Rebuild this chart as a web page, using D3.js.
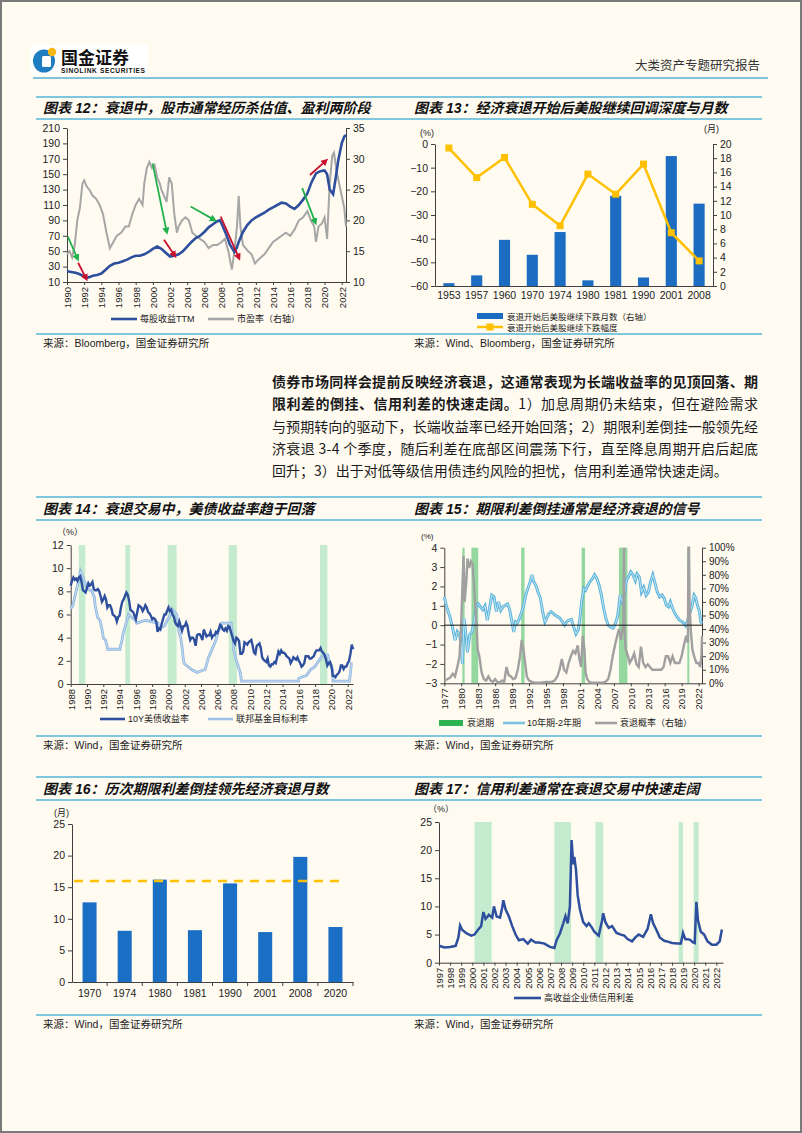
<!DOCTYPE html>
<html><head><meta charset="utf-8">
<script src="https://cdn.jsdelivr.net/npm/d3@7"></script>
<style>
html,body{margin:0;padding:0;background:#FFFBF1;}
svg{display:block;}
text{font-family:"Liberation Sans",Arial,"Noto Sans CJK SC",sans-serif;}
</style></head><body>
<svg id="page" width="802" height="1133"></svg>
<script>
// ---------------- DATA ----------------
// Chart 12
const eps12 = [[1990,24],[1990.5,23],[1991,22],[1991.5,20],[1992,17],[1992.25,15.5],[1992.5,16],[1993,18],[1993.5,19],[1994,21],[1994.5,26],[1995,31],[1995.5,34],[1996,35],[1996.5,37],[1997,39],[1997.5,42],[1998,44],[1998.5,44],[1999,46],[1999.5,49],[2000,53],[2000.5,56],[2001,53],[2001.5,48],[2002,43],[2002.5,44],[2003,46],[2003.5,50],[2004,56],[2004.5,62],[2005,67],[2005.5,70],[2006,75],[2006.5,81],[2007,85],[2007.5,89],[2007.8,90],[2008,86],[2008.5,73],[2009,58],[2009.5,49],[2009.8,55],[2010,62],[2010.5,75],[2011,84],[2011.5,90],[2012,94],[2012.5,97],[2013,100],[2013.5,104],[2014,107],[2014.5,110],[2015,113],[2015.5,112],[2016,108],[2016.5,105],[2017,110],[2017.5,117],[2018,125],[2018.5,140],[2019,151],[2019.5,154],[2020,155],[2020.3,150],[2020.6,130],[2021,124],[2021.3,145],[2021.6,168],[2022,190],[2022.3,199],[2022.5,201]];
const pe12 = [[1990,14.5],[1990.3,15],[1990.6,14],[1990.9,16],[1991.2,20],[1991.5,22],[1991.8,26],[1992,26.5],[1992.3,25.5],[1992.6,25],[1993,24],[1993.4,23.5],[1993.8,22.5],[1994.2,21],[1994.6,18],[1995,15.5],[1995.4,16.5],[1995.8,17.5],[1996.3,18],[1996.8,19],[1997.2,19],[1997.6,21],[1998,22.5],[1998.4,23.5],[1998.8,22.5],[1999,26],[1999.3,28.5],[1999.6,29.5],[1999.9,28.5],[2000.2,29],[2000.5,27],[2000.8,26],[2001,25],[2001.3,24],[2001.6,23],[2001.9,27],[2002.2,26],[2002.5,21],[2002.8,18],[2003,19],[2003.4,20],[2003.8,20.5],[2004.2,20],[2004.6,18],[2005,17.5],[2005.5,17],[2006,16.5],[2006.5,15.5],[2007,16],[2007.5,16],[2008,16.5],[2008.4,17],[2008.8,15],[2009,13.5],[2009.2,12],[2009.5,15],[2009.8,19],[2010,24],[2010.2,19],[2010.5,16],[2010.8,15.5],[2011.1,15],[2011.5,14.5],[2011.9,13],[2012.2,13.5],[2012.6,14],[2013,14.5],[2013.5,15.5],[2014,16.5],[2014.5,17],[2015,17.5],[2015.5,18],[2016,17.5],[2016.5,18.5],[2017,20],[2017.5,20.5],[2018,21.5],[2018.4,20],[2018.8,19],[2019,16.5],[2019.3,19],[2019.7,19.5],[2020,20.5],[2020.3,17],[2020.6,26],[2020.9,30.5],[2021.1,31],[2021.4,28],[2021.7,26],[2022,24],[2022.3,22],[2022.5,19]];
const arrows12 = [
  ['g',1990.1,69,1991.2,41],['r',1991.3,35,1992.2,15],
  ['g',1999.97,164,2001.6,76],['r',2001.3,65,2002.5,45],
  ['g',2004.4,108,2007.1,91],['r',2007.9,95,2010.0,42],
  ['g',2017.4,132,2018.9,88],['r',2018.3,149,2020.1,167]];
const yearTicks12 = d3.range(1990, 2023, 2);
const leftTicks12 = d3.range(10, 211, 20);
const rightTicks12 = [10,15,20,25,30,35];

// Chart 13
const cats13 = ['1953','1957','1960','1970','1974','1980','1981','1990','2001','2008'];
const months13 = [0.4,1.5,6.5,4.4,7.6,0.8,12.7,1.2,18.3,11.6];
const decline13 = [-1.7,-14.2,-5.7,-25.5,-34.5,-12.7,-21.2,-8.5,-37.5,-49.4];
const leftTicks13 = [0,-10,-20,-30,-40,-50,-60];
const rightTicks13 = d3.range(0, 21, 2);

// Chart 14
const yield10y = [
 8.5,8.9,9.2,9.0,9.1,8.9, 9.2,9.3,8.8,8.1,8.0,7.9, 8.3,8.7,8.5,8.6,8.8,8.2,
 8.1,8.1,8.2,8.0,7.6,7.1, 7.3,7.6,7.3,6.6,6.8,6.8, 6.5,6.0,5.9,5.8,5.4,5.8,
 5.9,6.6,7.1,7.3,7.6,7.9, 7.7,7.2,6.4,6.3,6.2,5.9, 5.6,6.2,6.8,6.7,6.6,6.3,
 6.5,6.8,6.6,6.2,6.1,5.9, 5.6,5.7,5.6,5.4,4.5,4.8, 4.7,5.2,5.6,6.0,6.0,6.3,
 6.6,6.3,6.4,6.0,5.8,5.3, 5.1,5.0,5.4,5.0,4.6,5.0, 5.0,5.3,5.0,4.3,3.8,4.0,
 4.0,3.8,3.3,4.2,4.3,4.3, 4.1,3.8,4.7,4.4,4.1,4.2, 4.2,4.5,4.0,4.2,4.2,4.5,
 4.4,4.7,5.1,5.0,4.7,4.6, 4.8,4.6,5.0,4.9,4.5,4.1, 3.7,3.5,4.0,3.9,3.7,2.6,
 2.6,2.8,3.6,3.5,3.4,3.6, 3.7,3.8,3.3,2.7,2.6,3.3, 3.4,3.5,3.1,2.3,2.1,2.0,
 1.9,2.2,1.6,1.5,1.7,1.7, 1.9,1.8,2.3,2.8,2.6,2.9, 2.7,2.7,2.6,2.4,2.3,2.2,
 1.8,2.0,2.3,2.2,2.1,2.3, 2.0,1.8,1.5,1.6,1.8,2.4, 2.4,2.4,2.2,2.2,2.3,2.4,
 2.7,2.9,2.9,2.9,3.1,2.8, 2.7,2.5,2.1,1.6,1.8,1.9, 1.6,0.7,0.7,0.6,0.8,0.9,
 1.1,1.6,1.6,1.3,1.5,1.5, 1.8,2.0,2.6,3.4,3.0];
const start14 = 1988, perYear14 = 6;
const fedFunds14 = [[1988.0,6.5],[1988.25,6.75],[1988.5,7.5],[1988.75,8.25],[1989.0,9.0],[1989.2,9.75],[1989.5,9.25],[1989.6,9.0],[1989.9,8.5],[1990.0,8.25],[1990.6,8.0],[1990.9,7.5],[1991.0,6.75],[1991.3,5.75],[1991.6,5.5],[1991.9,4.5],[1992.0,4.0],[1992.3,3.75],[1992.55,3.0],[1994.05,3.0],[1994.1,3.25],[1994.3,3.75],[1994.4,4.25],[1994.6,4.75],[1994.9,5.5],[1995.1,6.0],[1995.5,5.75],[1995.95,5.5],[1996.1,5.25],[1997.2,5.5],[1998.7,5.25],[1998.8,4.75],[1999.5,5.0],[1999.85,5.5],[2000.1,5.75],[2000.4,6.5],[2001.0,6.0],[2001.1,5.5],[2001.3,4.5],[2001.5,4.0],[2001.7,3.0],[2001.85,2.0],[2001.95,1.75],[2002.85,1.25],[2003.5,1.0],[2004.5,1.25],[2004.6,1.5],[2004.9,2.25],[2005.2,2.75],[2005.5,3.25],[2005.8,3.75],[2006.1,4.5],[2006.5,5.25],[2007.7,5.25],[2007.75,4.75],[2007.9,4.25],[2008.0,3.0],[2008.25,2.25],[2008.35,2.0],[2008.8,1.0],[2008.97,0.25],[2015.95,0.25],[2016.0,0.5],[2016.95,0.75],[2017.2,1.0],[2017.45,1.25],[2017.95,1.5],[2018.2,1.75],[2018.45,2.0],[2018.7,2.25],[2018.97,2.5],[2019.55,2.5],[2019.6,2.25],[2019.7,2.0],[2019.8,1.75],[2020.15,1.25],[2020.2,0.25],[2022.2,0.25],[2022.25,0.5],[2022.35,1.0],[2022.45,1.75],[2022.6,1.75]];
const shade14 = [[1989.0,1989.8],[1994.7,1995.3],[1999.9,2001.0],[2007.4,2008.4],[2018.6,2019.5]];
const yearTicks14 = d3.range(1988, 2023, 2);
const yTicks14 = d3.range(0, 13, 2);

// Chart 15
const spread15 = [[1977.0,1.46],[1977.5,0.86],[1978.0,0.43],[1978.5,-0.17],[1978.9,-0.77],[1979.3,-0.34],[1979.7,-0.5],[1980.0,-1.0],[1980.2,-2.0],[1980.5,0.35],[1980.9,-0.7],[1981.1,-1.4],[1981.5,-0.5],[1981.9,-0.35],[1982.3,0.2],[1982.7,1.0],[1983.0,1.1],[1983.4,0.95],[1983.8,0.8],[1984.2,1.0],[1984.6,0.26],[1985.0,0.86],[1985.4,1.55],[1985.8,1.46],[1986.2,0.7],[1986.6,1.2],[1987.0,0.77],[1987.4,0.95],[1987.8,1.03],[1988.2,1.1],[1988.6,0.77],[1989.0,0.1],[1989.3,-0.35],[1989.6,0.17],[1989.9,0.1],[1990.3,0.35],[1990.7,0.7],[1991.0,0.95],[1991.4,1.55],[1991.8,1.9],[1992.2,2.25],[1992.5,2.6],[1992.8,2.25],[1993.2,2.05],[1993.6,1.7],[1994.0,1.4],[1994.4,0.7],[1994.8,0.17],[1995.1,0.35],[1995.5,0.6],[1995.9,0.7],[1996.3,0.6],[1996.7,0.5],[1997.1,0.43],[1997.5,0.35],[1997.9,0.17],[1998.3,0.0],[1998.7,0.2],[1999.1,0.26],[1999.5,0.3],[1999.9,-0.1],[2000.3,-0.45],[2000.7,-0.25],[2001.0,0.35],[2001.3,1.2],[2001.7,1.9],[2002.0,1.8],[2002.4,2.05],[2002.8,2.25],[2003.2,2.4],[2003.6,2.6],[2004.0,2.4],[2004.4,2.05],[2004.8,1.55],[2005.2,0.86],[2005.6,0.35],[2006.0,0.0],[2006.5,-0.1],[2006.9,-0.15],[2007.3,0.1],[2007.7,0.5],[2008.1,1.55],[2008.5,1.2],[2008.9,1.55],[2009.2,2.3],[2009.6,2.5],[2010.0,2.75],[2010.4,2.6],[2010.8,2.3],[2011.1,2.65],[2011.5,2.5],[2011.9,1.7],[2012.3,1.95],[2012.7,1.55],[2013.1,1.7],[2013.5,2.25],[2013.9,2.6],[2014.3,2.15],[2014.7,1.7],[2015.1,1.46],[2015.5,1.55],[2015.9,1.4],[2016.3,1.03],[2016.7,0.95],[2017.0,1.2],[2017.4,0.86],[2017.8,0.6],[2018.2,0.43],[2018.6,0.26],[2019.0,0.2],[2019.4,0.1],[2019.7,-0.03],[2020.0,0.17],[2020.4,0.6],[2020.8,0.95],[2021.2,1.55],[2021.5,1.4],[2021.8,1.03],[2022.1,0.77],[2022.4,0.17],[2022.6,0.1]];
const prob15 = [[1977.0,2],[1977.5,3],[1978.0,4],[1978.5,7],[1978.9,5],[1979.3,12],[1979.7,20],[1980.0,45],[1980.2,70],[1980.4,94],[1980.6,60],[1980.9,75],[1981.1,92],[1981.4,85],[1981.7,90],[1982.0,88],[1982.3,70],[1982.6,50],[1982.9,25],[1983.2,20],[1983.6,8],[1984.0,3],[1984.4,2],[1984.8,5],[1985.2,2],[1985.6,1],[1986.0,3],[1986.4,1],[1986.8,0.5],[1987.2,2],[1987.6,1],[1988.0,12],[1988.4,6],[1988.8,5],[1989.2,3],[1989.6,4],[1990.0,10],[1990.4,20],[1990.7,32],[1991.0,25],[1991.3,15],[1991.6,5],[1992.0,2],[1992.5,1],[1993.0,0.5],[1994.0,0.5],[1995.0,1],[1996.0,1],[1996.5,2],[1997.0,5],[1997.4,10],[1997.8,18],[1998.2,10],[1998.6,8],[1999.0,15],[1999.4,20],[1999.8,24],[2000.2,22],[2000.6,28],[2000.9,18],[2001.2,12],[2001.5,35],[2001.8,25],[2002.0,8],[2002.3,3],[2002.7,1],[2003.0,0.5],[2004.0,0.5],[2005.0,0.5],[2005.5,1],[2006.0,3],[2006.4,10],[2006.8,20],[2007.2,28],[2007.6,35],[2007.9,40],[2008.3,32],[2008.7,45],[2008.8,100],[2008.9,40],[2009.1,25],[2009.5,20],[2009.8,15],[2010.2,18],[2010.6,22],[2011.0,14],[2011.4,12],[2011.8,27],[2012.2,15],[2012.6,12],[2013.0,14],[2013.4,12],[2013.8,10],[2014.2,10],[2014.6,10],[2015.0,10],[2015.4,10],[2015.8,12],[2016.2,20],[2016.6,20],[2017.0,15],[2017.4,20],[2017.8,15],[2018.2,15],[2018.6,15],[2019.0,20],[2019.4,28],[2019.8,35],[2020.1,30],[2020.2,100],[2020.3,100],[2020.4,60],[2020.6,40],[2020.9,25],[2021.2,20],[2021.6,15],[2022.0,15],[2022.3,12],[2022.5,20],[2022.6,35]];
const recess15 = [[1980.2,1980.6],[1981.8,1983.0],[1990.6,1991.2],[2001.3,2001.9],[2007.9,2009.4],[2020.0,2020.3]];
const yearTicks15 = d3.range(1977, 2023, 3);
const leftTicks15 = d3.range(-3, 5, 1);
const rightTicks15 = d3.range(0, 101, 10);

// Chart 16
const cats16 = ['1970','1974','1980','1981','1990','2001','2008','2020'];
const lead16 = [12.6,8.1,16.2,8.2,15.6,7.9,19.8,8.7];
const refLine16 = 16;
const yTicks16 = [0,5,10,15,20,25];

// Chart 17
const hySpread17 = [[1997.0,3.0],[1997.5,2.7],[1998.0,2.8],[1998.5,3.0],[1998.75,4.5],[1998.9,6.6],[1999.1,5.8],[1999.5,5.2],[1999.9,4.8],[2000.2,5.0],[2000.5,5.8],[2000.8,6.5],[2001.0,9.0],[2001.2,7.8],[2001.5,8.5],[2001.8,8.0],[2001.95,10.0],[2002.2,8.2],[2002.5,8.0],[2002.7,9.8],[2002.8,11.1],[2003.0,9.5],[2003.3,8.2],[2003.6,6.5],[2003.9,5.0],[2004.2,4.0],[2004.6,4.2],[2005.0,3.4],[2005.3,4.1],[2005.7,3.6],[2006.0,3.6],[2006.5,3.4],[2007.0,2.8],[2007.4,2.6],[2007.6,4.0],[2007.9,5.2],[2008.2,7.0],[2008.4,8.3],[2008.6,7.0],[2008.8,10.0],[2008.95,21.8],[2009.1,17.5],[2009.2,18.8],[2009.35,16.5],[2009.5,12.0],[2009.7,9.5],[2010.0,7.2],[2010.3,6.5],[2010.5,7.0],[2010.8,6.2],[2011.0,5.5],[2011.4,4.8],[2011.7,7.5],[2011.8,8.8],[2012.0,7.2],[2012.3,6.2],[2012.6,6.5],[2013.0,5.3],[2013.4,5.0],[2013.7,4.8],[2014.0,4.2],[2014.4,3.8],[2014.7,4.5],[2015.0,5.0],[2015.4,4.6],[2015.8,6.0],[2016.1,8.6],[2016.3,7.0],[2016.6,5.8],[2016.9,4.5],[2017.3,3.9],[2017.7,3.7],[2018.0,3.5],[2018.5,3.4],[2018.8,3.4],[2019.0,5.3],[2019.2,4.2],[2019.6,4.1],[2019.9,3.6],[2020.05,3.5],[2020.2,10.8],[2020.35,7.5],[2020.6,5.5],[2020.9,5.0],[2021.2,3.8],[2021.6,3.2],[2022.0,3.2],[2022.3,3.8],[2022.5,5.9]];
const shade17 = [[2000.2,2001.75],[2007.4,2008.9],[2011.1,2011.8],[2018.6,2019.0],[2019.95,2020.4]];
const yearTicks17 = d3.range(1997, 2023, 1);
const yTicks17 = [0,5,10,15,20,25];

// ---------------- DRAW ----------------
const svg = d3.select('#page');
const LINE = '#55B4D8', AX = '#404040';
const CJK = '"Liberation Sans",Arial,"Noto Sans CJK SC",sans-serif';

svg.append('rect').attr('x',1).attr('y',1).attr('width',800).attr('height',1131)
  .attr('fill','#FFFBF1').attr('stroke','#7a7a7a').attr('stroke-width',2);

function hline(y){svg.append('line').attr('x1',36).attr('x2',762).attr('y1',y).attr('y2',y).attr('stroke',LINE).attr('stroke-width',1.6);}
function txt(x,y,s,size,opts={}){
  const t=svg.append('text').attr('x',x).attr('y',y).text(s).style('font-size',size+'px').style('font-family',CJK).attr('fill',opts.fill||'#222');
  if(opts.bold) t.style('font-weight','bold');
  if(opts.italic) t.style('font-style','italic');
  if(opts.anchor) t.attr('text-anchor',opts.anchor);
  return t;
}
function styleAxis(g,size=10){
  g.select('.domain').attr('stroke',AX);
  g.selectAll('.tick line').attr('stroke',AX);
  g.selectAll('text').attr('fill','#222').style('font-size',size+'px').style('font-family','"Liberation Sans",Arial,sans-serif');
}
function rot(g){
  g.selectAll('.tick text').attr('transform','rotate(-90)').attr('x',-5).attr('y',0).attr('dy','0.35em').style('text-anchor','end');
}

// header
svg.append('rect').attr('x',30).attr('y',45).attr('width',118).attr('height',30).attr('fill','#fff');
svg.append('ellipse').attr('cx',44).attr('cy',61).attr('rx',11).attr('ry',11.5).attr('fill','#1F7DC1');
svg.append('rect').attr('x',42).attr('y',56).attr('width',9).attr('height',11).attr('rx',1.5).attr('fill','#fff');
svg.append('circle').attr('cx',52).attr('cy',52).attr('r',4.2).attr('fill','#F6B613');
txt(61,64,'国金证券',17,{bold:true,fill:'#111'});
txt(61,73,'SINOLINK SECURITIES',6.6,{bold:true,fill:'#111'}).attr('textLength',84);
txt(760,70,'大类资产专题研究报告',12.5,{anchor:'end',fill:'#333'});
svg.append('line').attr('x1',33).attr('x2',768).attr('y1',78).attr('y2',78).attr('stroke','#5AAFD4').attr('stroke-width',1.5);

// section lines & titles
[97,119,334,497,520,736,777,800,1015].forEach(hline);
const TS=14;
txt(43,113,'图表 12：衰退中，股市通常经历杀估值、盈利两阶段',TS,{bold:true,italic:true,fill:'#111'});
txt(414,113,'图表 13：经济衰退开始后美股继续回调深度与月数',TS,{bold:true,italic:true,fill:'#111'});
txt(43,514,'图表 14：衰退交易中，美债收益率趋于回落',TS,{bold:true,italic:true,fill:'#111'});
txt(414,514,'图表 15：期限利差倒挂通常是经济衰退的信号',TS,{bold:true,italic:true,fill:'#111'});
txt(43,794,'图表 16：历次期限利差倒挂领先经济衰退月数',TS,{bold:true,italic:true,fill:'#111'});
txt(414,794,'图表 17：信用利差通常在衰退交易中快速走阔',TS,{bold:true,italic:true,fill:'#111'});
txt(43,347,'来源：Bloomberg，国金证券研究所',10.5);
txt(414,347,'来源：Wind、Bloomberg，国金证券研究所',10.5);
txt(43,749,'来源：Wind，国金证券研究所',10.5);
txt(414,749,'来源：Wind，国金证券研究所',10.5);
txt(43,1028,'来源：Wind，国金证券研究所',10.5);
txt(414,1028,'来源：Wind，国金证券研究所',10.5);

// paragraph
const para = [
  [['债券市场同样会提前反映经济衰退，这通常表现为长端收益率的见顶回落、期',true]],
  [['限利差的倒挂、信用利差的快速走阔。',true],['1）加息周期仍未结束，但在避险需求',false]],
  [['与预期转向的驱动下，长端收益率已经开始回落；2）期限利差倒挂一般领先经',false]],
  [['济衰退 3-4 个季度，随后利差在底部区间震荡下行，直至降息周期开启后起底',false]],
  [['回升；3）出于对低等级信用债违约风险的担忧，信用利差通常快速走阔。',false]]];
para.forEach((ln,i)=>{
  const t=svg.append('text').attr('x',272).attr('y',387+i*22.3).style('font-size','14px')
    .style('font-family','"Noto Sans CJK SC",sans-serif').attr('fill','#1a1a1a');
  if(i<4) t.attr('textLength',486).attr('lengthAdjust','spacing');
  ln.forEach(([s,b])=>t.append('tspan').text(s).style('font-weight',b?'bold':'normal'));
});

// ---------- Chart 12 ----------
{
  const x=d3.scaleLinear().domain([1990,2022.5]).range([67,346]);
  const yL=d3.scaleLinear().domain([10,210]).range([282,128]);
  const yR=d3.scaleLinear().domain([10,35]).range([282,128]);
  const gl=svg.append('g').attr('transform','translate(67,0)').call(d3.axisLeft(yL).tickValues(leftTicks12).tickSize(4).tickSizeOuter(0));
  styleAxis(gl,10.5);
  const gr=svg.append('g').attr('transform','translate(346,0)').call(d3.axisRight(yR).tickValues(rightTicks12).tickSize(4).tickSizeOuter(0));
  styleAxis(gr,10.5);
  const gx=svg.append('g').attr('transform','translate(0,282)').call(d3.axisBottom(x).tickValues(yearTicks12).tickFormat(d3.format('d')).tickSize(3).tickSizeOuter(0));
  styleAxis(gx,9.5); rot(gx);
  svg.append('path').datum(pe12).attr('fill','none').attr('stroke','#A6A6A6').attr('stroke-width',2)
    .attr('d',d3.line().x(d=>x(d[0])).y(d=>yR(d[1])));
  svg.append('path').datum(eps12).attr('fill','none').attr('stroke','#2E4F9E').attr('stroke-width',2.6)
    .attr('d',d3.line().x(d=>x(d[0])).y(d=>yL(d[1])));
  const defs=svg.append('defs');
  [['g','#21B04B'],['r','#C8102E']].forEach(([k,c])=>{
    defs.append('marker').attr('id','ah'+k).attr('viewBox','0 0 10 10').attr('refX',5).attr('refY',5)
      .attr('markerWidth',4).attr('markerHeight',4).attr('orient','auto')
      .append('path').attr('d','M0,0 L10,5 L0,10 z').attr('fill',c);
  });
  arrows12.forEach(a=>{
    const c=a[0]==='g'?'#21B04B':'#C8102E';
    svg.append('line').attr('x1',x(a[1])).attr('y1',yL(a[2])).attr('x2',x(a[3])).attr('y2',yL(a[4]))
      .attr('stroke',c).attr('stroke-width',1.8).attr('marker-end','url(#ah'+a[0]+')');
  });
  svg.append('line').attr('x1',111).attr('x2',137).attr('y1',319).attr('y2',319).attr('stroke','#2E4F9E').attr('stroke-width',2.6);
  txt(140,322,'每股收益TTM',9);
  svg.append('line').attr('x1',208).attr('x2',234).attr('y1',319).attr('y2',319).attr('stroke','#A6A6A6').attr('stroke-width',2.6);
  txt(237,322,'市盈率（右轴）',9);
}

// ---------- Chart 13 ----------
{
  const x=d3.scaleBand().domain(cats13).range([435,713]).paddingInner(0.6).paddingOuter(0.3);
  const yL=d3.scaleLinear().domain([-60,0]).range([286,144]);
  const yR=d3.scaleLinear().domain([0,20]).range([286,144]);
  const gl=svg.append('g').attr('transform','translate(435,0)').call(d3.axisLeft(yL).tickValues(leftTicks13).tickSize(4).tickSizeOuter(0));
  styleAxis(gl,10.5);
  const gr=svg.append('g').attr('transform','translate(713,0)').call(d3.axisRight(yR).tickValues(rightTicks13).tickSize(4).tickSizeOuter(0));
  styleAxis(gr,10.5);
  const gx=svg.append('g').attr('transform','translate(0,286)').call(d3.axisBottom(x).tickSize(0).tickPadding(6));
  styleAxis(gx,10.5);
  svg.selectAll('.bar13').data(cats13).enter().append('rect')
    .attr('x',d=>x(d)).attr('width',x.bandwidth())
    .attr('y',(d,i)=>yR(months13[i])).attr('height',(d,i)=>yR(0)-yR(months13[i])).attr('fill','#1C6DC1');
  const cx=d=>x(d)+x.bandwidth()/2;
  svg.append('path').datum(cats13).attr('fill','none').attr('stroke','#FFC000').attr('stroke-width',2.5)
    .attr('d',d3.line().x(cx).y((d,i)=>yL(decline13[i])));
  svg.selectAll('.m13').data(cats13).enter().append('rect')
    .attr('x',d=>cx(d)-3.5).attr('y',(d,i)=>yL(decline13[i])-3.5).attr('width',7).attr('height',7).attr('fill','#FFC000');
  txt(420,136,'(%)',9);
  txt(704,132,'(月)',9);
  svg.append('rect').attr('x',477).attr('y',313).attr('width',26).attr('height',6).attr('fill','#1C6DC1');
  txt(507,320,'衰退开始后美股继续下跌月数（右轴）',8.5);
  svg.append('line').attr('x1',477).attr('x2',503).attr('y1',327).attr('y2',327).attr('stroke','#FFC000').attr('stroke-width',2.5);
  svg.append('rect').attr('x',486.5).attr('y',323.5).attr('width',7).attr('height',7).attr('fill','#FFC000');
  txt(507,331,'衰退开始后美股继续下跌幅度',8.5);
}

// ---------- Chart 14 ----------
{
  const x=d3.scaleLinear().domain([1988,2022.65]).range([70.7,353]);
  const y=d3.scaleLinear().domain([0,12]).range([684,545]);
  shade14.forEach(s=>svg.append('rect').attr('x',x(s[0])).attr('width',x(s[1])-x(s[0]))
    .attr('y',y(12)).attr('height',y(0)-y(12)).attr('fill','#C5EBCF'));
  const gl=svg.append('g').attr('transform','translate(70.7,0)').call(d3.axisLeft(y).tickValues(yTicks14).tickSize(4).tickSizeOuter(0));
  styleAxis(gl,10.5);
  const gx=svg.append('g').attr('transform','translate(0,684)').call(d3.axisBottom(x).tickValues(yearTicks14).tickFormat(d3.format('d')).tickSize(3).tickSizeOuter(0));
  styleAxis(gx,9.5); rot(gx);
  const ffLine=d3.line().x(d=>x(d[0])).y(d=>y(d[1]));
  svg.append('path').datum(fedFunds14).attr('fill','none').attr('stroke','#8FB8E0').attr('stroke-width',2.8).attr('d',ffLine);
  svg.append('path').datum(fedFunds14).attr('fill','none').attr('stroke','#C9DDF2').attr('stroke-width',1).attr('d',ffLine);
  svg.append('path').datum(yield10y).attr('fill','none').attr('stroke','#2E4F9E').attr('stroke-width',2.4)
    .attr('d',d3.line().x((d,i)=>x(start14+i/perYear14)).y(d=>y(d)));
  txt(57,535,'（%）',9);
  svg.append('line').attr('x1',100).attr('x2',125).attr('y1',719).attr('y2',719).attr('stroke','#2E4F9E').attr('stroke-width',2.6);
  txt(128,722,'10Y美债收益率',9);
  svg.append('line').attr('x1',208).attr('x2',233).attr('y1',719).attr('y2',719).attr('stroke','#9DC3E6').attr('stroke-width',2.6);
  txt(236,722,'联邦基金目标利率',9);
}

// ---------- Chart 15 ----------
{
  const x=d3.scaleLinear().domain([1977,2022.6]).range([444.3,702]);
  const yL=d3.scaleLinear().domain([-3,4]).range([683.3,547.7]);
  const yR=d3.scaleLinear().domain([0,100]).range([683.3,547.7]);
  recess15.forEach(s=>svg.append('rect').attr('x',x(s[0])).attr('width',Math.max(2,x(s[1])-x(s[0])))
    .attr('y',yL(4)).attr('height',yL(-3)-yL(4)).attr('fill','#3DBB5C').attr('opacity',0.55));
  const gl=svg.append('g').attr('transform','translate(444.3,0)').call(d3.axisLeft(yL).tickValues(leftTicks15).tickFormat(d3.format('d')).tickSize(4).tickSizeOuter(0));
  styleAxis(gl,10.5);
  const gr=svg.append('g').attr('transform','translate(702,0)').call(d3.axisRight(yR).tickValues(rightTicks15).tickFormat(d=>d+'%').tickSize(4).tickSizeOuter(0));
  styleAxis(gr,10);
  const gx=svg.append('g').attr('transform','translate(0,683.3)').call(d3.axisBottom(x).tickValues(yearTicks15).tickFormat(d3.format('d')).tickSize(3).tickSizeOuter(0));
  styleAxis(gx,9.5); rot(gx);
  const sl=d3.line().x(d=>x(d[0])).y(d=>yL(d[1]));
  svg.append('path').datum(spread15).attr('fill','none').attr('stroke','#5DB5DC').attr('stroke-width',3).attr('d',sl);
  svg.append('path').datum(spread15).attr('fill','none').attr('stroke','#BFE4F3').attr('stroke-width',1).attr('d',sl);
  svg.append('path').datum(prob15).attr('fill','none').attr('stroke','#A0A0A0').attr('stroke-width',2.4)
    .attr('d',d3.line().x(d=>x(d[0])).y(d=>yR(d[1])));
  svg.append('line').attr('x1',444.3).attr('x2',702).attr('y1',yL(0)).attr('y2',yL(0)).attr('stroke','#111').attr('stroke-width',1);
  txt(421,539,'(%)',8);
  svg.append('rect').attr('x',439).attr('y',720).attr('width',24).attr('height',6).attr('fill','#2EB351');
  txt(467,726,'衰退期',9);
  svg.append('line').attr('x1',503).attr('x2',525).attr('y1',723).attr('y2',723).attr('stroke','#7CC3E3').attr('stroke-width',2.6);
  txt(527,726,'10年期-2年期',9);
  svg.append('line').attr('x1',595).attr('x2',617).attr('y1',723).attr('y2',723).attr('stroke','#A0A0A0').attr('stroke-width',2.6);
  txt(620,726,'衰退概率（右轴）',9);
}

// ---------- Chart 16 ----------
{
  const x=d3.scaleBand().domain(cats16).range([72,353]).paddingInner(0.6).paddingOuter(0.3);
  const y=d3.scaleLinear().domain([0,25]).range([982,824]);
  const gl=svg.append('g').attr('transform','translate(72,0)').call(d3.axisLeft(y).tickValues(yTicks16).tickSize(4).tickSizeOuter(0));
  styleAxis(gl,10.5);
  const gx=svg.append('g').attr('transform','translate(0,982)').call(d3.axisBottom(x).tickSize(0).tickPadding(8));
  styleAxis(gx,10.5);
  const step=x.step();
  cats16.forEach((d,i)=>{
    const bx=x(d)-step*0.3+step;
    svg.append('line').attr('x1',bx).attr('x2',bx).attr('y1',982).attr('y2',986).attr('stroke',AX);
  });
  svg.selectAll('.bar16').data(cats16).enter().append('rect')
    .attr('x',d=>x(d)).attr('width',x.bandwidth())
    .attr('y',(d,i)=>y(lead16[i])).attr('height',(d,i)=>y(0)-y(lead16[i])).attr('fill','#1A6EC3');
  svg.append('line').attr('x1',74).attr('x2',342).attr('y1',y(refLine16)).attr('y2',y(refLine16))
    .attr('stroke','#FFC000').attr('stroke-width',2.5).attr('stroke-dasharray','9,7');
  txt(54,816,'(月)',9);
}

// ---------- Chart 17 ----------
{
  const x=d3.scaleLinear().domain([1997,2022.6]).range([439,723]);
  const y=d3.scaleLinear().domain([0,25]).range([962.7,822]);
  shade17.forEach(s=>svg.append('rect').attr('x',x(s[0])).attr('width',x(s[1])-x(s[0]))
    .attr('y',y(25)).attr('height',y(0)-y(25)).attr('fill','#C5EBCF'));
  const gl=svg.append('g').attr('transform','translate(439,0)').call(d3.axisLeft(y).tickValues(yTicks17).tickSize(4).tickSizeOuter(0));
  styleAxis(gl,10.5);
  const gx=svg.append('g').attr('transform','translate(0,962.7)').call(d3.axisBottom(x).tickValues(yearTicks17).tickFormat(d3.format('d')).tickSize(3).tickSizeOuter(0));
  styleAxis(gx,9.5); rot(gx);
  svg.append('path').datum(hySpread17).attr('fill','none').attr('stroke','#2E4F9E').attr('stroke-width',2.5)
    .attr('d',d3.line().x(d=>x(d[0])).y(d=>y(d[1])));
  txt(428,812,'（%）',9);
  svg.append('line').attr('x1',514).attr('x2',541).attr('y1',998).attr('y2',998).attr('stroke','#2E4F9E').attr('stroke-width',2.6);
  txt(544,1001,'高收益企业债信用利差',9);
}
</script>
</body></html>
